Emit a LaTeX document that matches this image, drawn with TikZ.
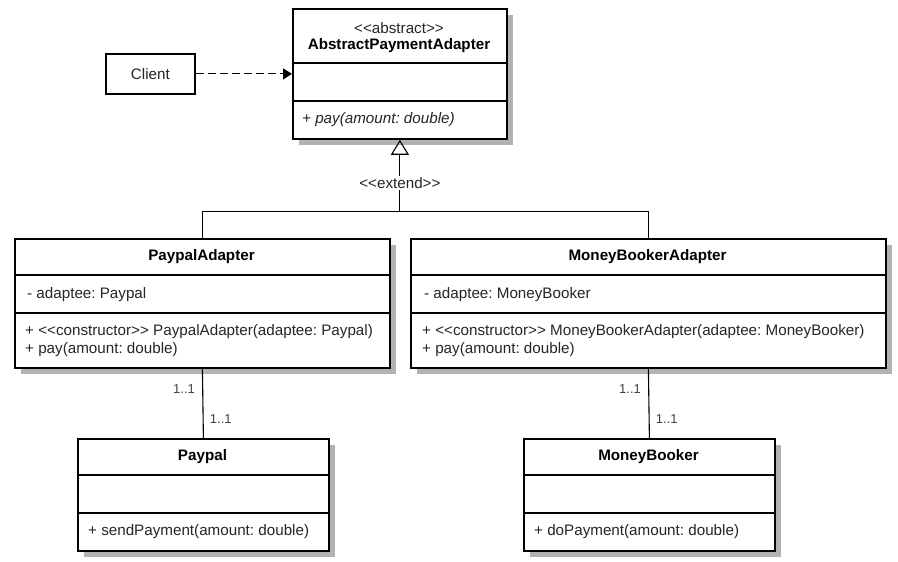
\documentclass[tikz,border=0pt]{standalone}
\usepackage{fontspec}
\setmainfont{Liberation Sans}
\usetikzlibrary{arrows.meta,calc,shadows}
\newcommand{\stereo}[1]{<{}<#1>{}>}
\frenchspacing

\begin{document}
\begin{tikzpicture}[x=1pt,y=-1pt,
   cls/.style={draw=black,line width=1.8pt,fill=white,inner sep=0pt,anchor=north west},
   shcls/.style={cls,drop shadow={shadow xshift=6pt,shadow yshift=-6pt,fill=black!30,opacity=1}},
   sep/.style={line width=1.8pt},
   txt/.style={inner sep=0pt,font=\fontsize{15.2}{17}\selectfont,text=black!85},
   ttl/.style={inner sep=0pt,font=\fontsize{15.2}{17}\selectfont\bfseries,text=black},
   mem/.style={txt,anchor=west},
   mult/.style={inner sep=0pt,font=\fontsize{13}{15}\selectfont,text=black!75},
   link/.style={line width=1.1pt}]
   \useasboundingbox (0,0) rectangle (898,562);
   % the boxes
   \node[cls,minimum width=89pt,minimum height=40pt] (client) at (105,53) {};
   \node[shcls,minimum width=214pt,minimum height=130pt] (abs) at (292,8) {};
   \node[shcls,minimum width=375pt,minimum height=129pt] (pa) at (14,238) {};
   \node[shcls,minimum width=475pt,minimum height=129pt] (mba) at (410,238) {};
   \node[shcls,minimum width=251pt,minimum height=112pt] (pp) at (77,438) {};
   \node[shcls,minimum width=251pt,minimum height=112pt] (mb) at (523,438) {};
   \draw[sep] ($(abs.north west)+(0,55)$) -- ($(abs.north east)+(0,55)$);
   \draw[sep] ($(abs.north west)+(0,93)$) -- ($(abs.north east)+(0,93)$);
   \draw[sep] ($(pa.north west)+(0,37)$) -- ($(pa.north east)+(0,37)$);
   \draw[sep] ($(pa.north west)+(0,75)$) -- ($(pa.north east)+(0,75)$);
   \draw[sep] ($(mba.north west)+(0,37)$) -- ($(mba.north east)+(0,37)$);
   \draw[sep] ($(mba.north west)+(0,75)$) -- ($(mba.north east)+(0,75)$);
   \draw[sep] ($(pp.north west)+(0,37)$) -- ($(pp.north east)+(0,37)$);
   \draw[sep] ($(pp.north west)+(0,75)$) -- ($(pp.north east)+(0,75)$);
   \draw[sep] ($(mb.north west)+(0,37)$) -- ($(mb.north east)+(0,37)$);
   \draw[sep] ($(mb.north west)+(0,75)$) -- ($(mb.north east)+(0,75)$);
   % texts
   \node[txt] (clientn) at (client.center) {Client};
   \node[txt] (abss) at (399,28) {\stereo{abstract}};
   \node[ttl] (absn) at (399,46) {AbstractPaymentAdapter};
   \node[mem,font=\fontsize{15.2}{17}\selectfont\itshape] (absm) at (302,120) {+ pay(amount: double)};
   \node[ttl] (pan) at (201.5,257) {PaypalAdapter};
   \node[mem] (paa) at (27,295) {- adaptee: Paypal};
   \node[mem] (pam1) at (25,332) {+ \stereo{constructor} PaypalAdapter(adaptee: Paypal)};
   \node[mem] (pam2) at (25,350) {+ pay(amount: double)};
   \node[ttl] (mban) at (647.5,257) {MoneyBookerAdapter};
   \node[mem] (mbaa) at (424,295) {- adaptee: MoneyBooker};
   \node[mem] (mbam1) at (422,332) {+ \stereo{constructor} MoneyBookerAdapter(adaptee: MoneyBooker)};
   \node[mem] (mbam2) at (422,350) {+ pay(amount: double)};
   \node[ttl] (ppn) at (202.5,457) {Paypal};
   \node[mem] (ppm) at (88,532) {+ sendPayment(amount: double)};
   \node[ttl] (mbn) at (648.5,457) {MoneyBooker};
   \node[mem] (mbm) at (534,532) {+ doPayment(amount: double)};
   % connectors
   \draw[link,dashed,dash pattern=on 8pt off 4pt,-{Triangle[length=9pt,width=11pt]}]
      (client.east) -- (client.east -| abs.west);
   \coordinate (join) at ($(abs.south)+(0,72)$);
   \draw[link,-{Triangle[open,length=15pt,width=18pt]}] (pa.north) |- (join) -- (abs.south);
   \draw[link] (mba.north) |- (join);
   \node[txt,fill=white,inner sep=1.5pt] (ext) at ($(abs.south)+(0,43)$) {\stereo{extend}};
   \draw[link] (pa.south) -- (pp.north)
      node[mult,at start,anchor=north east,xshift=-7pt,yshift=-15pt] {1..1}
      node[mult,at end,anchor=south west,xshift=6pt,yshift=14pt] {1..1};
   \draw[link] (mba.south) -- (mb.north)
      node[mult,at start,anchor=north east,xshift=-7pt,yshift=-15pt] {1..1}
      node[mult,at end,anchor=south west,xshift=6pt,yshift=14pt] {1..1};
\end{tikzpicture}
\end{document}
